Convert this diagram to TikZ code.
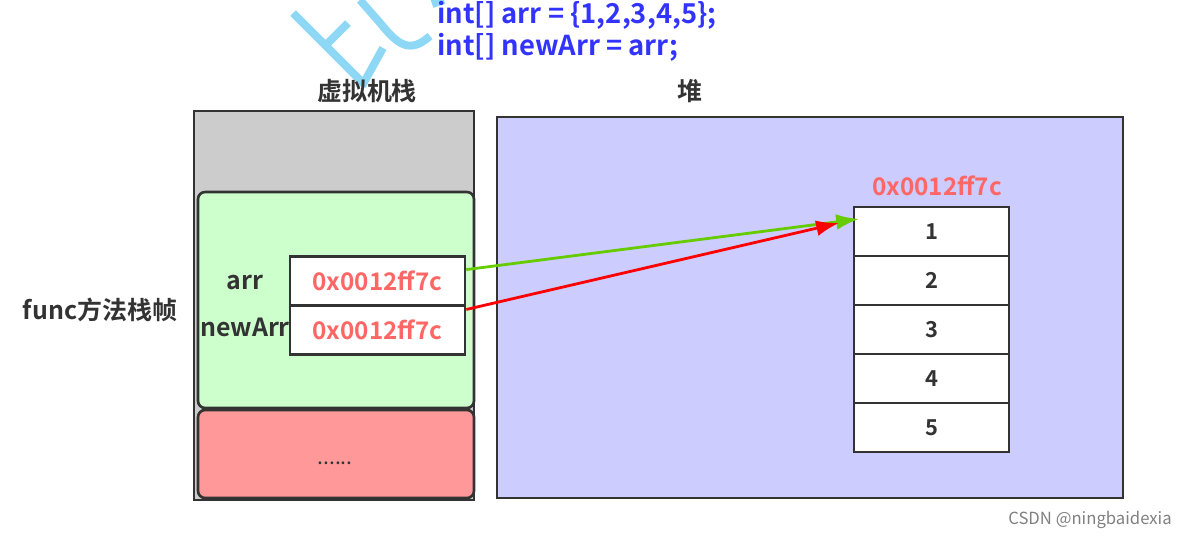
\documentclass[tikz,border=0pt]{standalone}
\usepackage{fontspec}
\usetikzlibrary{arrows.meta}
\setmainfont{Noto Sans CJK SC}[BoldFont={Noto Sans CJK SC Bold}]
\definecolor{inkgray}{HTML}{333333}
\definecolor{stackgray}{HTML}{CCCCCC}
\definecolor{framegreen}{HTML}{CCFFCC}
\definecolor{restred}{HTML}{FF9999}
\definecolor{heapblue}{HTML}{CCCCFF}
\definecolor{addrred}{HTML}{FF6666}
\definecolor{codeblue}{HTML}{3333FF}
\definecolor{markblue}{HTML}{8ED8F6}
\definecolor{refgreen}{HTML}{66CC00}
\definecolor{refred}{HTML}{FF0000}

\begin{document}
\begin{tikzpicture}[x=0.02cm, y=-0.02cm,
	box/.style={draw=inkgray, line width=1.5pt},
	cell/.style={box, fill=white, minimum width=3.1cm, minimum height=0.98cm, inner sep=0pt,
		font=\fontsize{12.5}{14}\selectfont\bfseries, text=inkgray},
	addr/.style={box, fill=white, minimum width=3.5cm, minimum height=0.98cm, inner sep=0pt,
		font=\fontsize{13.8}{16}\selectfont\bfseries, text=addrred},
	lbl/.style={font=\fontsize{14.2}{16}\selectfont\bfseries, text=inkgray},
	code/.style={font=\fontsize{15.6}{18}\selectfont\bfseries, text=codeblue, anchor=west, inner sep=0pt},
	wmstroke/.style={draw=markblue, line width=4.5pt},
	ref/.style={-{Latex[length=13pt,width=9pt]}, line width=1.6pt}]

	\useasboundingbox (0,0) rectangle (1185,539);

	% watermark
	\draw[wmstroke] (293,13) -- (364,84);
	\draw[wmstroke] (327,44) -- (348,23);
	\draw[wmstroke] (360,0) -- (381,24) .. controls (398,45) and (410,54) .. (430,36);
	\draw[wmstroke] (383,48) -- (362,86);
	\draw[wmstroke] (432,4) -- (444,0);

	% code
	\node (line1) [code] at (437,15) {int[] arr = \{1,2,3,4,5\};};
	\node (line2) [code] at (437,47) {int[] newArr = arr;};

	% stack
	\node (stacktitle) [lbl] at (367,91) {虚拟机栈};
	\draw[box, fill=stackgray] (194,111) rectangle (474,500);
	\node (frame) [box, fill=framegreen, rounded corners=4pt, minimum width=5.52cm, minimum height=4.32cm] at (336,300) {};
	\node (rest) [box, fill=restred, rounded corners=4pt, minimum width=5.52cm, minimum height=1.76cm] at (336,454) {};
	\node (restdots) [font=\fontsize{12}{14}\selectfont, text=inkgray] at (335,463) {......};
	\node (functitle) [lbl] at (100,310) {func方法栈帧};
	\node (arrname) [lbl] at (245,282) {arr};
	\node (newname) [lbl] at (245,327) {newArr};
	\node (arrval) [addr] at (377.5,281) {0x0012ff7c};
	\node (newval) [addr] at (377.5,330) {0x0012ff7c};

	% heap
	\node (heaptitle) [lbl] at (690,91) {堆};
	\draw[box, fill=heapblue] (497,117) rectangle (1123,498);
	\node (heapaddr) [font=\fontsize{13.8}{16}\selectfont\bfseries, text=addrred] at (937,186) {0x0012ff7c};
	\foreach \i in {1,...,5}
		\node (h\i) [cell] at (931.5, 207+49*\i-24.5) {\i};

	\coordinate (tipG) at (859,219);
	\coordinate (tipR) at (839,223);
	\path
	(arrval) edge[ref, draw=refgreen] (tipG)
	(newval) edge[ref, draw=refred] (tipR);

	\node (credit) [font=\fontsize{9.5}{11}\selectfont, text=gray] at (1090,520) {CSDN @ningbaidexia};

\end{tikzpicture}
\end{document}
